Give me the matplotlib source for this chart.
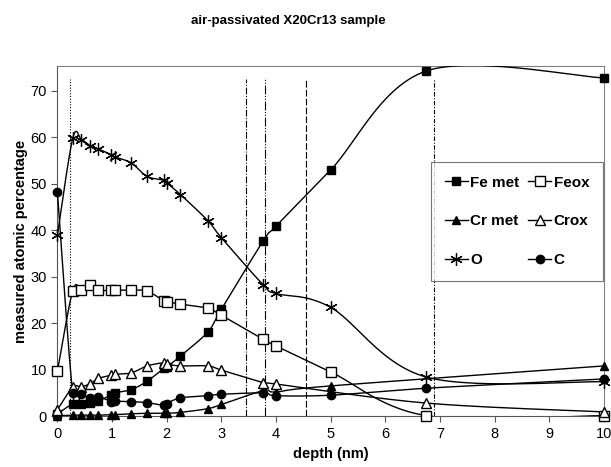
import numpy as np
import matplotlib
matplotlib.use("Agg")
from matplotlib import pyplot as plt
from matplotlib.lines import Line2D

plt.rcParams['font.family'] = ['Liberation Sans', 'DejaVu Sans']

# depth values (nm) shared by the series, nan = no point
depth = [0, 0.28, 0.44, 0.6, 0.75, 0.98, 1.05, 1.35, 1.64, 1.95, 2.0, 2.25, 2.75, 3.0, 3.77, 4.0, 5.0, 6.75, 10]
fe_met = [0.5, 2.6, 2.6, 2.9, 3.3, 4.5, 5.0, 5.7, 7.5, 10.3, 10.6, 12.9, 18.1, 23.0, 37.8, 40.9, 53.0, 74.3, 72.8]
feox = [9.7, 27.0, 27.2, 28.2, 27.1, 27.1, 27.1, 27.1, 26.9, 24.8, 24.6, 24.1, 23.2, 21.7, 16.5, 15.1, 9.5, 0.1, 0.1]
cr_met = [0.1, 0.2, 0.2, 0.2, 0.2, 0.3, 0.3, 0.5, 0.6, 0.6, 0.6, 0.8, 1.6, 2.5, 5.5, 5.2, 6.5, np.nan, 10.8]
crox = [1.4, 6.2, 6.3, 7.0, 8.1, 8.8, 9.0, 9.3, 10.8, 11.5, 11.2, 10.8, 10.8, 9.9, 7.2, 6.9, np.nan, 2.8, 0.9]
oxy = [39.0, 59.8, 59.5, 58.2, 57.5, 56.3, 55.8, 54.5, 51.6, 50.8, 50.2, 47.7, 42.1, 38.4, 28.2, 26.4, 23.4, 8.4, 7.4]
carb = [48.2, 4.9, 4.7, 3.8, 4.2, 3.1, 3.2, 3.1, 2.9, 2.3, 2.7, 3.9, 4.4, 4.7, 5.0, 4.4, 4.5, 6.0, 8.0]

vlines = [0.23, 3.45, 3.80, 4.55, 6.89]
vstyles = [(0, (1, 1.5)), (0, (6, 1.5, 1, 1.5)), (0, (8, 1.5, 1, 1.5, 1, 1.5)), (0, (6, 2)), (0, (4, 1.5, 1, 1.5))]


def smooth(x, y, n=30):
    # catmull-rom like excel smoothed line
    x = np.asarray(x, float); y = np.asarray(y, float)
    ok = ~np.isnan(y)
    x = x[ok]; y = y[ok]
    P = np.column_stack([x, y])
    P = np.vstack([P[0], P, P[-1]])
    out = []
    for i in range(1, len(P) - 2):
        p0, p1, p2, p3 = P[i - 1], P[i], P[i + 1], P[i + 2]
        m1 = (p2 - p0) / 2
        m2 = (p3 - p1) / 2
        t = np.linspace(0, 1, n)[:, None]
        h00 = 2*t**3 - 3*t**2 + 1
        h10 = t**3 - 2*t**2 + t
        h01 = -2*t**3 + 3*t**2
        h11 = t**3 - t**2
        out.append(h00*p1 + h10*m1 + h01*p2 + h11*m2)
    out = np.vstack(out)
    return out[:, 0], out[:, 1]


fig = plt.figure(figsize=(6.11, 4.67), dpi=100)
ax = fig.add_axes([0.094, 0.109, 0.8945, 0.750])

series = [
    ("Fe met", fe_met, dict(marker='s', mfc='black', ms=6)),
    ("Cr met", cr_met, dict(marker='^', mfc='black', ms=6)),
    ("O", oxy, dict(marker=(6, 2, 0), mfc='black', ms=9, mew=0.9)),
    ("Feox", feox, dict(marker='s', mfc='white', ms=7)),
    ("Crox", crox, dict(marker='^', mfc='white', ms=7)),
    ("C", carb, dict(marker='o', mfc='black', ms=6)),
]

handles = []
for name, vals, st in series:
    sx, sy = smooth(depth, vals)
    ax.plot(sx, sy, color='black', lw=1.0, zorder=3)
    ax.plot(depth, vals, linestyle='none', mec='black', zorder=4, clip_on=False, **st)
    handles.append(Line2D([], [], color='black', lw=1.0, mec='black', **st))

for xv, ls in zip(vlines, vstyles):
    ax.plot([xv, xv], [0, 72.5], color='black', lw=0.8, linestyle=ls, zorder=2)

ax.set_xlim(0, 10)
ax.set_ylim(0, 75.4)
ax.set_xticks(range(0, 11))
ax.set_yticks(range(0, 71, 10))
ax.tick_params(labelsize=10.5, length=4, width=0.8, color='#555555')
for s in ['top', 'right']:
    ax.spines[s].set_color('#808080')
for s in ['left', 'bottom']:
    ax.spines[s].set_color('#555555')

ax.set_xlabel("depth (nm)", fontsize=10.5, fontweight='bold', labelpad=5)
ax.set_ylabel("measured atomic percentage", fontsize=10.5, fontweight='bold', labelpad=2)
fig.text(0.472, 0.955, "air-passivated X20Cr13 sample", ha='center', va='center',
         fontsize=9.5, fontweight='bold')

leg = ax.legend(handles=handles, labels=[h[0] for h in series], ncol=2,
                loc='upper right', bbox_to_anchor=(0.998, 0.726), borderaxespad=0,
                prop=dict(weight='bold', size=11), handlelength=1.5, handletextpad=0.15,
                columnspacing=0.6, labelspacing=1.62, borderpad=0.9,
                frameon=True, fancybox=False, edgecolor='#555555')
leg.get_frame().set_linewidth(0.8)

fig.savefig("out.png", dpi=100)
